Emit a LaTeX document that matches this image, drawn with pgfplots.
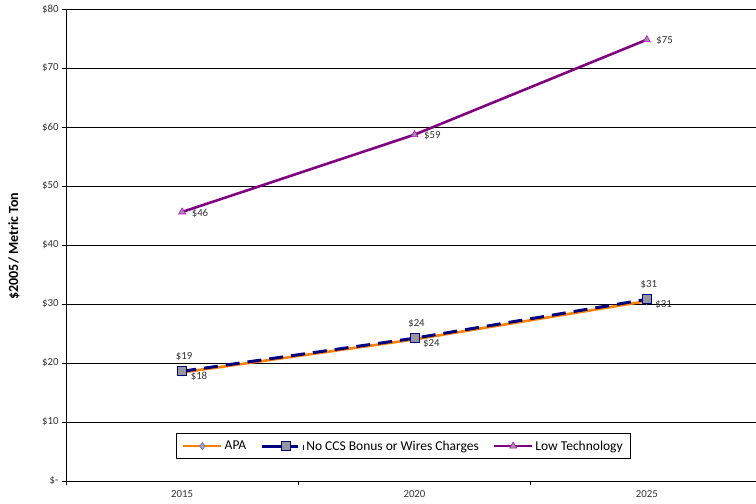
\documentclass[border=0pt]{standalone}
\usepackage{pgfplots}
\pgfplotsset{compat=1.18}
\usepackage{fontspec}
\setmainfont{Carlito}
\definecolor{apaorange}{RGB}{255,128,0}
\definecolor{navyline}{RGB}{0,0,128}
\definecolor{lowpurple}{RGB}{128,0,128}
\definecolor{markgray}{RGB}{150,150,160}
\definecolor{diamfill}{RGB}{150,170,200}
\definecolor{trimag}{RGB}{200,0,200}
% short solid line ending in the marker, for the dashed series
\pgfplotsset{navylegend/.style={legend image code/.code={\path (0bp,0bp) -- (38bp,0bp);\draw[##1, solid] (6bp,0bp) -- (24bp,0bp) plot coordinates {(24bp,0bp)};}}}
\begin{document}
\begin{tikzpicture}
\useasboundingbox (-66bp,-23bp) rectangle (690bp,481bp);
\begin{axis}[
  at={(0,0)}, anchor=origin,
  scale only axis,
  width=690bp, height=472bp,
  xmin=0.5, xmax=3.47,
  ymin=0, ymax=80,
  axis x line=bottom, axis y line=left,
  axis line style={-, black, line width=0.8pt},
  xtick={1,2,3},
  xticklabels={2015,2020,2025},
  x tick style={draw=none},
  extra x ticks={0.5,1.5,2.5,3.5},
  extra x tick labels={},
  extra x tick style={x tick style={draw=black, line width=0.5pt}, major tick length=4bp, tick align=outside, grid=none},
  ytick={0,10,...,80},
  yticklabels={\$-,\$10,\$20,\$30,\$40,\$50,\$60,\$70,\$80},
  y tick style={black, line width=0.5pt},
  major tick length=4bp,
  tick align=outside,
  ymajorgrids,
  grid style={black, line width=0.5pt},
  tick label style={font=\fontsize{10.8bp}{12bp}\selectfont, text=black!80},
  x tick label style={yshift=-2bp},
  ylabel={\$2005/ Metric Ton},
  every axis y label/.style={at={(axis description cs:0,0.5)}, xshift=-52bp, yshift=-1bp, rotate=90, anchor=center, font=\bfseries\fontsize{14bp}{16bp}\selectfont},
  /pgf/number format/assume math mode=true,
  legend style={at={(axis description cs:0.489,0.074)}, anchor=center, legend columns=3, draw=black, line width=0.6pt,
    font=\fontsize{13.5bp}{15bp}\selectfont, inner xsep=6bp, inner ysep=5bp,
    /tikz/every even column/.append style={column sep=12bp}},
  legend image code/.code={\draw[#1] (0bp,0bp) -- (19bp,0bp) plot coordinates {(19bp,0bp)} -- (38bp,0bp);},
  every node near coord/.append style={font=\fontsize{10.8bp}{12bp}\selectfont, text=black!80},
  clip=false,
]
% APA scenario
\addplot[apaorange, line width=2.6pt, mark=diamond*, mark size=3.5bp,
  mark options={fill=diamfill, draw=navyline!60, line width=0.6pt},
  nodes near coords={\$\pgfmathprintnumber[fixed,precision=0]{\pgfplotspointmeta}},
  nodes near coords style={anchor=west, xshift=5bp, yshift=-4bp}]
  coordinates {(1,18.4) (2,24.0) (3,30.5)};
\addlegendentry{APA}
% No CCS bonus scenario
\addplot[navyline, line width=3pt, dash pattern=on 14bp off 8bp, mark=square*, mark size=4.5bp,
  mark options={solid, fill=markgray, draw=navyline, line width=0.8pt},
  nodes near coords={\$\pgfmathprintnumber[fixed,precision=0]{\pgfplotspointmeta}},
  nodes near coords style={anchor=south, xshift=2bp, yshift=7bp},
  navylegend]
  coordinates {(1,18.6) (2,24.2) (3,30.8)};
\addlegendentry{\textcolor{navyline}{\rule{0.8bp}{5bp}}\,No CCS Bonus or Wires Charges}
% Low technology scenario
\addplot[lowpurple, line width=2.6pt, mark=triangle*, mark size=4bp,
  mark options={fill=markgray, draw=trimag, line width=0.6pt},
  nodes near coords={\$\pgfmathprintnumber[fixed,precision=0]{\pgfplotspointmeta}},
  nodes near coords style={anchor=west, xshift=6bp, yshift=-1bp}]
  coordinates {(1,45.6) (2,58.7) (3,74.8)};
\addlegendentry{Low Technology}
\end{axis}
\end{tikzpicture}
\end{document}
